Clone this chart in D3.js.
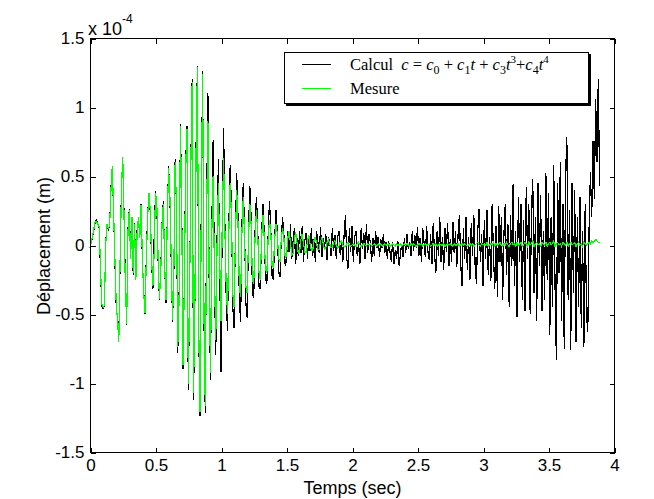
<!DOCTYPE html>
<html><head><meta charset="utf-8">
<script src="https://cdn.jsdelivr.net/npm/d3@7"></script>
<style>
html,body{margin:0;padding:0;background:#fff;}
svg{display:block;}
</style></head>
<body>
<svg id="chart" width="654" height="499"></svg>
<script>
// sample step (s)
const dt = 0.01;
const xTicks = [0, 0.5, 1, 1.5, 2, 2.5, 3, 3.5, 4];
const xTickLabels = ["0", "0.5", "1", "1.5", "2", "2.5", "3", "3.5", "4"];
const yTicks = [-1.5, -1, -0.5, 0, 0.5, 1, 1.5];
const yTickLabels = ["-1.5", "-1", "-0.5", "0", "0.5", "1", "1.5"];
const seriesNames = ["Calcul", "Mesure"];
// values in units of 1e-4 m
const calcul = [
-0.01,0.02,0.06,0.11,0.17,0.18,0.15,0.12,-0.18,-0.44,
-0.46,-0.44,0.02,0.14,0.11,0.14,0.42,0.56,0.24,-0.12,
-0.44,-0.53,-0.68,-0.12,0.42,0.63,0.22,-0.28,-0.58,0.12,
0.26,-0.08,0.18,-0.22,0.16,-0.24,0.12,0.18,0.07,0.30,
-0.12,-0.34,-0.50,-0.08,0.22,0.38,0.24,-0.12,-0.32,0.06,
0.39,0.28,-0.12,-0.40,-0.18,0.16,0.32,-0.16,-0.42,0.22,
0.57,0.34,-0.12,-0.56,-0.22,0.62,0.28,-0.78,-0.38,0.88,
0.32,-0.90,-0.28,0.58,0.86,-1.05,-0.42,0.62,1.20,-1.12,
-0.52,0.74,1.30,-0.64,-1.24,0.45,1.26,-0.55,-1.22,0.25,
1.10,-0.35,-0.98,0.15,0.76,-0.25,-0.80,0.05,0.62,-0.15,
-0.92,0.25,0.85,0.15,-0.40,-0.62,0.15,0.58,0.25,-0.45,
-0.60,0.10,0.52,0.20,-0.40,-0.56,0.15,0.45,0.10,-0.42,
-0.53,0.10,0.43,0.20,-0.35,-0.38,0.10,0.35,0.15,-0.30,
-0.32,0.08,0.30,0.10,-0.25,-0.28,0.08,0.32,0.12,-0.22,
-0.25,0.05,0.25,0.10,-0.20,-0.23,0.05,0.20,0.08,-0.15,
-0.12,0.10,-0.05,0.15,-0.10,0.02,0.12,-0.14,0.05,-0.08,
0.10,-0.06,0.14,-0.12,0.03,0.09,-0.10,0.06,-0.04,0.12,
-0.08,0.04,-0.12,0.10,0.02,-0.06,0.13,-0.09,0.05,-0.03,
0.08,-0.11,0.06,0.02,-0.08,0.12,-0.04,0.07,-0.10,0.05,
0.10,-0.07,0.03,-0.12,0.08,0.22,-0.10,-0.17,0.12,-0.05,
0.14,-0.12,0.06,0.10,-0.08,0.02,-0.14,0.12,-0.03,0.09,
-0.10,0.15,-0.06,0.08,0.02,-0.12,0.05,-0.08,0.10,-0.02,
0.06,-0.09,0.04,-0.02,0.08,-0.06,0.02,-0.10,0.03,-0.05,
-0.12,0.02,-0.14,-0.04,-0.10,0.03,-0.15,-0.06,0.01,-0.09,
0.05,-0.06,0.08,-0.03,0.02,-0.08,0.10,-0.04,0.07,-0.02,
0.13,-0.08,0.05,-0.12,0.12,0.02,-0.09,0.14,-0.05,-0.11,
0.08,-0.14,0.16,-0.06,-0.20,0.10,-0.08,0.20,-0.12,0.06,
-0.18,0.12,-0.05,0.16,-0.15,0.04,-0.12,0.17,-0.06,0.10,
-0.16,0.08,0.22,-0.14,-0.30,0.12,-0.10,0.20,-0.18,0.06,
-0.25,0.16,-0.08,0.22,-0.15,-0.28,0.10,0.26,-0.12,0.08,
-0.30,0.18,-0.10,0.25,-0.22,0.06,-0.26,0.30,-0.08,-0.32,
0.14,-0.38,0.28,-0.12,0.20,-0.40,0.08,0.30,-0.22,0.15,
-0.45,0.22,-0.15,0.44,-0.30,0.10,-0.52,0.35,-0.12,0.30,
-0.40,0.18,-0.48,0.42,-0.10,0.30,-0.50,0.25,0.48,-0.35,
0.20,-0.55,0.45,-0.15,0.36,-0.48,0.10,-0.40,0.52,-0.25,
0.38,-0.65,0.20,-0.45,0.58,-0.30,-0.83,0.45,-0.20,0.60,
-0.55,0.30,-0.75,0.50,0.78,-0.40,0.25,-0.76,0.45,-0.35,
0.40,-0.70,0.20,-0.45,0.35,-0.60,0.10,-0.74,0.30,-0.50,
-0.63,0.13,0.53,0.20,0.75,0.33,1.06,0.60,1.20,0.43
];
const mesure = [
-0.02,0.02,0.07,0.12,0.17,0.17,0.15,0.13,-0.15,-0.43,
-0.45,-0.44,0.01,0.15,0.12,0.14,0.40,0.57,0.25,-0.10,
-0.42,-0.55,-0.70,-0.10,0.40,0.64,0.20,-0.30,-0.57,0.10,
0.25,-0.10,0.20,-0.20,0.15,-0.25,0.10,0.20,0.05,0.29,
-0.10,-0.35,-0.49,-0.10,0.20,0.38,0.25,-0.10,-0.30,-0.05,
0.38,0.30,-0.10,-0.39,-0.20,0.15,0.30,-0.15,-0.40,0.20,
0.56,0.35,-0.10,-0.54,-0.20,0.60,0.30,-0.74,-0.40,0.86,
0.30,-0.87,-0.30,0.55,0.84,-1.01,-0.40,0.60,1.18,-1.07,
-0.50,0.70,1.29,-0.60,-1.21,0.40,1.24,-0.50,-1.17,0.20,
0.90,-0.30,-0.93,0.10,0.50,-0.20,-0.69,0.00,0.45,-0.10,
-0.55,0.20,0.63,0.10,-0.30,-0.50,0.10,0.45,0.20,-0.35,
-0.45,0.05,0.40,0.15,-0.30,-0.38,0.10,0.35,0.05,-0.30,
-0.35,0.05,0.30,0.15,-0.25,-0.28,0.05,0.25,0.10,-0.20,
-0.25,0.05,0.22,0.05,-0.18,-0.20,0.05,0.18,0.10,-0.15,
-0.16,0.05,0.15,0.08,-0.10,-0.12,0.04,0.12,0.05,-0.09,
-0.08,0.05,0.10,0.02,-0.07,-0.06,0.04,0.09,0.02,-0.06,
-0.05,0.04,0.08,0.01,-0.05,-0.05,0.03,0.07,0.01,-0.04,
-0.04,0.03,0.06,0.01,-0.03,-0.03,0.03,0.05,0.01,-0.03,
-0.02,0.02,0.04,0.01,-0.02,-0.02,0.02,0.03,0.00,-0.02,
-0.01,0.02,0.03,0.00,-0.01,-0.01,0.01,0.02,0.00,-0.01,
0.00,0.01,0.00,-0.01,0.01,0.02,0.00,-0.01,0.00,0.01,
0.00,-0.01,0.01,0.00,0.01,-0.01,0.00,0.01,0.00,-0.01,
0.01,0.00,0.01,-0.01,0.00,0.01,0.00,0.00,0.01,-0.01,
0.00,0.01,0.00,-0.01,0.01,0.00,0.00,0.01,-0.01,0.00,
0.01,0.00,0.01,0.00,-0.01,0.01,0.00,0.01,0.00,-0.01,
0.00,0.01,0.00,0.01,-0.01,0.00,0.01,0.00,0.00,0.01,
-0.01,0.00,0.01,0.00,0.01,-0.01,0.00,0.01,0.00,0.00,
0.01,-0.01,0.00,0.01,0.00,0.01,0.00,-0.01,0.01,0.00,
0.00,0.01,-0.01,0.00,0.01,0.00,0.01,0.00,-0.01,0.00,
0.01,0.00,0.01,-0.01,0.00,0.01,0.02,0.00,-0.01,0.01,
0.00,0.01,0.00,0.02,-0.01,0.00,0.01,0.00,0.02,-0.01,
0.01,0.00,0.01,0.02,0.00,-0.01,0.01,0.00,0.02,0.00,
-0.01,0.01,0.02,0.00,0.01,-0.01,0.02,0.00,0.01,0.02,
-0.01,0.00,0.02,0.01,-0.01,0.02,0.00,0.01,0.03,-0.01,
0.01,0.02,0.00,0.01,-0.01,0.02,0.01,0.00,0.02,-0.01,
0.01,0.02,0.00,0.01,0.03,-0.01,0.01,0.02,0.00,0.01,
-0.01,0.02,0.01,0.00,0.02,-0.01,0.01,0.02,0.00,0.01,
0.02,-0.01,0.01,0.02,0.00,0.01,-0.01,0.02,0.01,0.00,
0.01,0.02,0.01,0.03,0.02,0.03,0.04,0.03,0.02,0.02
];

const sans = "'Liberation Sans', Arial, sans-serif";
const serif = "'Liberation Serif','Times New Roman',serif";
const svg = d3.select("#chart");
const L = 90, R = 614, T = 38, B = 452;
const x = d3.scaleLinear().domain([0, 4]).range([L, R]);
const y = d3.scaleLinear().domain([-1.5, 1.5]).range([B, T]);

const line = d3.line().x((d, i) => x(i * dt)).y(d => y(d));
const plot = svg.append("g");
plot.append("path").datum(calcul).attr("d", line)
  .attr("fill", "none").attr("stroke", "#000").attr("stroke-width", 1.2)
  .attr("shape-rendering", "crispEdges");
plot.append("path").datum(mesure).attr("d", line)
  .attr("fill", "none").attr("stroke", "#00ff00").attr("stroke-width", 1.2)
  .attr("shape-rendering", "crispEdges");

// axes box
svg.append("rect").attr("x", L + 0.5).attr("y", T + 0.5)
  .attr("width", R - L).attr("height", B - T)
  .attr("fill", "none").attr("stroke", "#000").attr("stroke-width", 1)
  .attr("shape-rendering", "crispEdges");

const fs = 17;
function styleAxis(g) {
  g.select(".domain").remove();
  g.selectAll(".tick line").attr("stroke", "#000").attr("shape-rendering", "crispEdges");
  g.selectAll("text").attr("fill", "#000")
    .style("font-size", fs + "px").style("font-family", sans);
}
const ax = d3.axisBottom(x).tickValues(xTicks).tickFormat((d, i) => xTickLabels[i])
  .tickSizeInner(-5).tickSizeOuter(0).tickPadding(6);
svg.append("g").attr("transform", `translate(0.5,${B + 0.5})`).call(ax).call(styleAxis);
const axTop = d3.axisTop(x).tickValues(xTicks).tickFormat("").tickSizeInner(-5).tickSizeOuter(0);
svg.append("g").attr("transform", `translate(0.5,${T + 0.5})`).call(axTop).call(styleAxis);
const ay = d3.axisLeft(y).tickValues(yTicks).tickFormat((d, i) => yTickLabels[i])
  .tickSizeInner(-5).tickSizeOuter(0).tickPadding(6);
svg.append("g").attr("transform", `translate(${L + 0.5},0.5)`).call(ay).call(styleAxis);
const ayR = d3.axisRight(y).tickValues(yTicks).tickFormat("").tickSizeInner(-5).tickSizeOuter(0);
svg.append("g").attr("transform", `translate(${R + 0.5},0.5)`).call(ayR).call(styleAxis);

// exponent label
const ex = svg.append("text").attr("x", 88).attr("y", 35).attr("fill", "#000")
  .style("font-family", sans).style("font-size", "18px");
ex.append("tspan").text("x 10");
ex.append("tspan").attr("dy", -12).style("font-size", "12px").text("-4");

// axis labels
svg.append("text").attr("x", (L + R) / 2 + 0.5).attr("y", 494).attr("text-anchor", "middle")
  .attr("fill", "#000").style("font-family", sans).style("font-size", "18px").text("Temps (sec)");
svg.append("text").attr("transform", `translate(50,${(T + B) / 2 + 1}) rotate(-90)`)
  .attr("text-anchor", "middle").attr("fill", "#000")
  .style("font-family", sans).style("font-size", "18px").text("Déplacement (m)");

// legend
const lg = svg.append("g");
lg.append("rect").attr("x", 286).attr("y", 54).attr("width", 305).attr("height", 52)
  .attr("fill", "#000").attr("shape-rendering", "crispEdges");
lg.append("rect").attr("x", 284.5).attr("y", 52.5).attr("width", 304).attr("height", 51)
  .attr("fill", "#fff").attr("stroke", "#000").attr("stroke-width", 1)
  .attr("shape-rendering", "crispEdges");
const legendColors = ["#000", "#00ff00"];
const ly = d3.scalePoint().domain(seriesNames).range([64, 88]);
seriesNames.forEach((n, i) => {
  lg.append("line").attr("x1", 302).attr("x2", 331).attr("y1", ly(n) + 0.5).attr("y2", ly(n) + 0.5)
    .attr("stroke", legendColors[i]).attr("stroke-width", 1);
});
const t1 = lg.append("text").attr("x", 350).attr("y", ly("Calcul") + 6).attr("fill", "#000")
  .style("font-family", serif).style("font-size", "16.5px");
function sp(txt, opts = {}) {
  const s = t1.append("tspan").text(txt);
  if (opts.it) s.style("font-style", "italic");
  if (opts.dy) s.attr("dy", opts.dy);
  if (opts.fs) s.style("font-size", opts.fs + "px");
  return s;
}
sp("Calcul\u00a0\u00a0");
sp("c", {it: 1}); sp(" = ");
sp("c", {it: 1}); sp("0", {dy: 4, fs: 12}); sp(" + ", {dy: -4});
sp("c", {it: 1}); sp("1", {dy: 4, fs: 12}); sp("t", {it: 1, dy: -4}); sp(" + ");
sp("c", {it: 1}); sp("3", {dy: 4, fs: 12}); sp("t", {it: 1, dy: -4}); sp("3", {dy: -7, fs: 11}); sp("+", {dy: 7});
sp("c", {it: 1}); sp("4", {dy: 4, fs: 12}); sp("t", {it: 1, dy: -4}); sp("4", {dy: -7, fs: 11});
lg.append("text").attr("x", 350).attr("y", ly("Mesure") + 6).attr("fill", "#000")
  .style("font-family", serif).style("font-size", "16.5px").text(seriesNames[1]);
</script>
</body></html>
